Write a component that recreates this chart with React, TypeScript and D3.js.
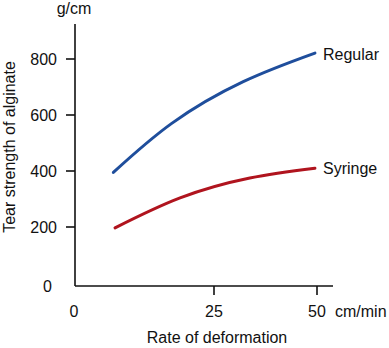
import React from "react";
import * as d3 from "d3";

const xTicks = [25, 50];
const yTicks = [200, 400, 600, 800];
const regularX = [6.9, 17.4, 32.1, 49.5];
const regularY = [395, 570, 719, 821];
const syringeX = [7.2, 18.9, 33.7, 49.5];
const syringeY = [197, 304, 375, 410];
const seriesNames = ["Regular", "Syringe"];

const W = 389;
const H = 348;
const FONT = "'Liberation Sans', Arial, Helvetica, sans-serif";

export default function App() {
  const x = d3.scaleLinear().domain([0, 25, 50]).range([75, 214, 317]);
  const y = d3.scaleLinear().domain([0, 800]).range([283, 59]);
  const line = d3
    .line<[number, number]>()
    .x((d) => x(d[0]))
    .y((d) => y(d[1]))
    .curve(d3.curveNatural);
  const reg: [number, number][] = regularX.map((v, i) => [v, regularY[i]]);
  const syr: [number, number][] = syringeX.map((v, i) => [v, syringeY[i]]);
  const axisBottom = 286;
  const axisLeft = 75;
  return (
    <svg
      width={W}
      height={H}
      style={{ position: "absolute", left: 0, top: 0, background: "#fff" }}
      fontFamily={FONT}
    >
      <rect width={W} height={H} fill="#fff" />
      <line x1={axisLeft} y1={24} x2={axisLeft} y2={axisBottom} stroke="#111" strokeWidth={1.6} />
      <line x1={axisLeft} y1={axisBottom} x2={333} y2={axisBottom} stroke="#111" strokeWidth={1.6} />
      {yTicks.map((t) => (
        <g key={t}>
          <line x1={66} x2={axisLeft} y1={y(t)} y2={y(t)} stroke="#111" strokeWidth={1.6} />
          <text x={57} y={y(t)} dy="0.35em" textAnchor="end" fontSize={16} fill="#111">
            {t}
          </text>
        </g>
      ))}
      <text x={52} y={axisBottom} dy="0.35em" textAnchor="end" fontSize={16} fill="#111">0</text>
      {xTicks.map((t) => (
        <g key={t}>
          <line x1={x(t)} x2={x(t)} y1={axisBottom} y2={295} stroke="#111" strokeWidth={1.6} />
          <text x={x(t)} y={317} textAnchor="middle" fontSize={16} fill="#111">
            {t}
          </text>
        </g>
      ))}
      <text x={74} y={317} textAnchor="middle" fontSize={16} fill="#111">0</text>
      <text x={335} y={317} textAnchor="start" fontSize={16} fill="#111">cm/min</text>
      <text x={217} y={343} textAnchor="middle" fontSize={16} fill="#111">Rate of deformation</text>
      <text x={74} y={14} textAnchor="middle" fontSize={16} fill="#111">g/cm</text>
      <text
        transform={`translate(15,147) rotate(-90)`}
        textAnchor="middle"
        fontSize={16}
        fill="#111"
      >
        Tear strength of alginate
      </text>
      <path d={line(reg) || ""} fill="none" stroke="#1f4e9c" strokeWidth={3} strokeLinecap="round" />
      <path d={line(syr) || ""} fill="none" stroke="#b0141e" strokeWidth={3} strokeLinecap="round" />
      <text x={323} y={60} fontSize={16} fill="#111">{seriesNames[0]}</text>
      <text x={323} y={174} fontSize={16} fill="#111">{seriesNames[1]}</text>
    </svg>
  );
}
